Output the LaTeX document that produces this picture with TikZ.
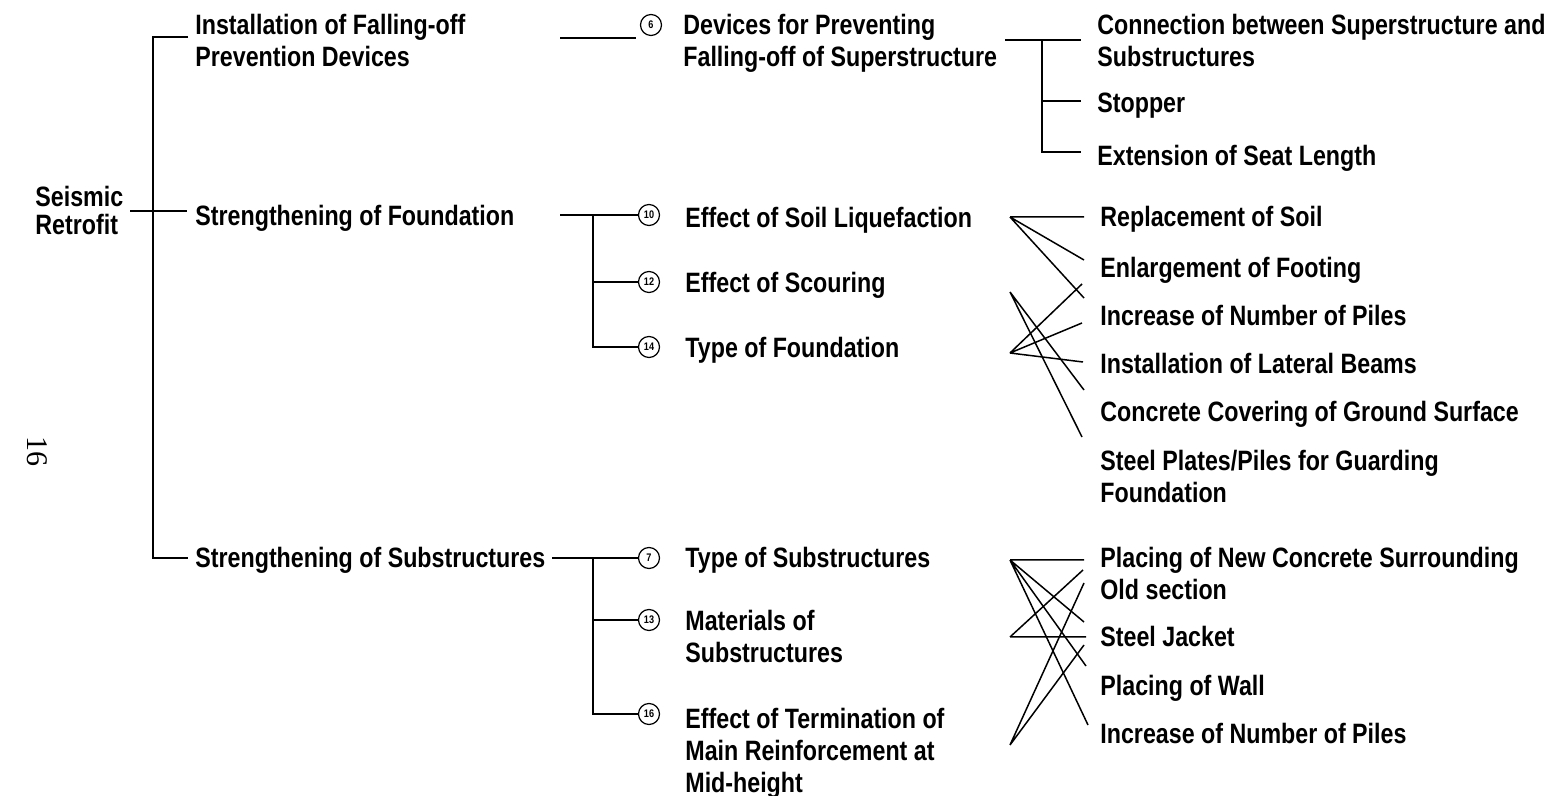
\documentclass[tikz,border=0pt]{standalone}
\usepackage{fontspec}
\newfontfamily\cond[FakeStretch=0.83]{Liberation Sans}
\newfontfamily\pgser{Liberation Serif}
\begin{document}
\begin{tikzpicture}[x=0.5pt,y=-0.5pt,
  lbl/.style={anchor=base west,inner sep=0pt,align=left,font=\cond\bfseries\fontsize{14}{16}\selectfont},
  rootlbl/.style={lbl,font=\cond\bfseries\fontsize{14}{14}\selectfont},
  cnum/.style={circle,draw,line width=0.6pt,minimum size=10.5pt,inner sep=0pt,font=\cond\bfseries\fontsize{5.5}{5.5}\selectfont},
  conn/.style={line width=0.75pt,line join=miter},
]
\useasboundingbox (0,0) rectangle (1555,796);

% page number
\node[font=\pgser\fontsize{15}{15}\selectfont,rotate=-90,inner sep=0pt] (pg) at (37,452) {16};

% level 0 and 1 (base anchor = baseline of last line)
\node[rootlbl] (root) at (35,235) {Seismic\\Retrofit};
\node[lbl] (i1) at (195,67) {Installation of Falling-off\\Prevention Devices};
\node[lbl] (i2) at (195,226) {Strengthening of Foundation};
\node[lbl] (i3) at (195,568) {Strengthening of Substructures};

% level 2
\node[cnum] (n6) at (651,25) {6};
\node[lbl] (d6) at (683,67) {Devices for Preventing\\Falling-off of Superstructure};
\node[cnum] (n10) at (649,215) {10};
\node[lbl] (d10) at (685,228) {Effect of Soil Liquefaction};
\node[cnum] (n12) at (649,282) {12};
\node[lbl] (d12) at (685,293) {Effect of Scouring};
\node[cnum] (n14) at (649,347) {14};
\node[lbl] (d14) at (685,358) {Type of Foundation};
\node[cnum] (n7) at (649,558) {7};
\node[lbl] (d7) at (685,568) {Type of Substructures};
\node[cnum] (n13) at (649,620) {13};
\node[lbl] (d13) at (685,663) {Materials of\\Substructures};
\node[cnum] (n16) at (649,714) {16};
\node[lbl] (d16) at (685,792) {Effect of Termination of\\Main Reinforcement at\\Mid-height};

% level 3: superstructure
\node[lbl] (s1) at (1097,67) {Connection between Superstructure and\\Substructures};
\node[lbl] (s2) at (1097,113) {Stopper};
\node[lbl] (s3) at (1097,166) {Extension of Seat Length};

% level 3: foundation
\node[lbl] (f1) at (1100,227) {Replacement of Soil};
\node[lbl] (f2) at (1100,278) {Enlargement of Footing};
\node[lbl] (f3) at (1100,326) {Increase of Number of Piles};
\node[lbl] (f4) at (1100,374) {Installation of Lateral Beams};
\node[lbl] (f5) at (1100,422) {Concrete Covering of Ground Surface};
\node[lbl] (f6) at (1100,503) {Steel Plates/Piles for Guarding\\Foundation};

% level 3: substructures
\node[lbl] (u1) at (1100,600) {Placing of New Concrete Surrounding\\Old section};
\node[lbl] (u2) at (1100,647) {Steel Jacket};
\node[lbl] (u3) at (1100,696) {Placing of Wall};
\node[lbl] (u4) at (1100,744) {Increase of Number of Piles};

% coordinates
\coordinate (r0) at (130,211);
\coordinate (r1) at (187,211);
\coordinate (t0) at (153,37);
\coordinate (t0e) at (188,37);
\coordinate (t2) at (153,558);
\coordinate (t2e) at (188,558);
\coordinate (a6) at (560,38);
\coordinate (a6e) at (636,38);
\coordinate (a10) at (560,215);
\coordinate (v1) at (593,215);
\coordinate (v1m) at (593,282);
\coordinate (a7) at (552,558);
\coordinate (v2) at (593,558);
\coordinate (v2m) at (593,620);
\coordinate (b0) at (1005,40);
\coordinate (b0e) at (1081,40);
\coordinate (bv) at (1042,40);
\coordinate (bvb) at (1042,152);
\coordinate (bvbe) at (1081,152);
\coordinate (bvm) at (1042,101);
\coordinate (bvme) at (1081,101);

% foundation fan
\coordinate (A1) at (1010,217);
\coordinate (A2) at (1010,292);
\coordinate (A3) at (1010,353);
\coordinate (fa1) at (1084,217);
\coordinate (fa2) at (1084,260);
\coordinate (fa3) at (1084,298);
\coordinate (fb1) at (1084,390);
\coordinate (fb2) at (1082,437);
\coordinate (fc1) at (1082,284);
\coordinate (fc2) at (1082,323);
\coordinate (fc3) at (1083,362);

% substructure fan
\coordinate (B1) at (1010,560);
\coordinate (B2) at (1010,637);
\coordinate (B3) at (1010,745);
\coordinate (ga1) at (1084,560);
\coordinate (ga2) at (1084,622);
\coordinate (ga3) at (1086,666);
\coordinate (ga4) at (1088,725);
\coordinate (gb1) at (1083,570);
\coordinate (gb2) at (1086,637);
\coordinate (gc1) at (1084,583);
\coordinate (gc2) at (1084,645);

% connectors
\draw[conn] (r0) -- (r1);
\draw[conn] (t0e) -- (t0) -- (t2) -- (t2e);
\draw[conn] (a6) -- (a6e);
\draw[conn] (a10) -- (n10.west);
\draw[conn] (v1) |- (n14.west);
\draw[conn] (v1m) -- (n12.west);
\draw[conn] (a7) -- (n7.west);
\draw[conn] (v2) |- (n16.west);
\draw[conn] (v2m) -- (n13.west);
\draw[conn] (b0) -- (b0e);
\draw[conn] (bv) -- (bvb) -- (bvbe);
\draw[conn] (bvm) -- (bvme);

\draw[conn] (A1) -- (fa1) (A1) -- (fa2) (A1) -- (fa3);
\draw[conn] (A2) -- (fb1) (A2) -- (fb2);
\draw[conn] (A3) -- (fc1) (A3) -- (fc2) (A3) -- (fc3);

\draw[conn] (B1) -- (ga1) (B1) -- (ga2) (B1) -- (ga3) (B1) -- (ga4);
\draw[conn] (B2) -- (gb1) (B2) -- (gb2);
\draw[conn] (B3) -- (gc1) (B3) -- (gc2);
\end{tikzpicture}
\end{document}
